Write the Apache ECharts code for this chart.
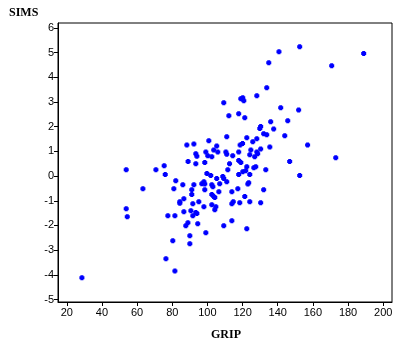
<!DOCTYPE html>
<html>
<head>
<meta charset="utf-8">
<script src="https://cdn.jsdelivr.net/npm/echarts@6/dist/echarts.min.js"></script>
<style>
html,body{margin:0;padding:0;background:#fff;}
#c{width:403px;height:343px;}
</style>
</head>
<body>
<div id="c"></div>
<script>
// Tick labels
const xTicks = [20, 40, 60, 80, 100, 120, 140, 160, 180, 200];
const yTicks = [-5, -4, -3, -2, -1, 0, 1, 2, 3, 4, 5, 6];
const xName = 'GRIP';
const yName = 'SIMS';

const grip = [
140.7,152.5,188.9,134.9,170.7,133.75,109.3,119.0,120.1,120.7,
128.1,141.7,151.9,112.2,117.8,121.25,136.0,145.7,130.3,129.8,
137.7,132.0,133.75,144.0,111.0,122.4,128.1,125.8,100.8,118.6,
120.0,135.5,157.0,105.3,103.6,124.7,130.3,99.1,105.9,110.5,
111.0,117.8,128.1,128.6,100.2,102.5,114.4,124.1,126.9,173.0,
88.3,92.3,93.4,94.0,53.8,70.7,75.4,76.0,89.0,93.4,
98.5,112.6,111.6,99.7,101.9,105.3,108.75,109.3,111.0,82.0,
86.0,92.3,96.8,98.0,98.5,102.5,103.1,107.0,63.3,80.9,
91.1,98.5,106.5,91.1,102.5,103.6,104.2,86.6,84.3,84.3,
95.1,91.7,102.5,98.0,104.8,104.2,86.6,90.6,93.4,94.0,
91.7,53.8,54.4,77.5,81.5,88.9,87.7,94.5,109.3,99.1,
90.0,80.3,90.0,76.4,81.5,28.6,117.8,119.0,122.4,127.5,
126.4,133.2,146.8,152.5,117.8,120.1,121.8,124.1,123.5,123.0,
132.0,117.3,113.9,121.25,113.9,114.7,118.4,124.1,130.3,113.9,
122.4
];
const sims = [
5.04,5.24,4.96,4.59,4.47,3.58,2.97,3.13,3.17,3.05,
3.25,2.77,2.68,2.44,2.52,2.36,2.20,2.24,2.01,1.93,
1.91,1.71,1.67,1.63,1.59,1.55,1.51,1.39,1.43,1.26,
1.32,1.18,1.26,1.22,1.06,1.06,1.10,0.98,0.98,0.98,
0.88,0.98,0.98,0.90,0.82,0.78,0.82,0.86,0.78,0.74,
1.26,1.30,0.90,0.80,0.26,0.26,0.42,0.06,0.59,0.50,
0.55,0.50,0.26,0.10,0.02,-0.10,-0.02,-0.10,-0.23,-0.19,
-0.35,-0.35,-0.31,-0.23,-0.32,-0.35,-0.43,-0.31,-0.51,-0.51,
-0.55,-0.55,-0.63,-0.75,-0.75,-0.83,-0.87,-0.92,-1.04,-1.10,
-1.04,-1.12,-1.16,-1.24,-1.24,-1.36,-1.44,-1.40,-1.48,-1.52,
-1.61,-1.32,-1.65,-1.61,-1.61,-1.89,-2.01,-1.93,-2.01,-2.30,
-2.42,-2.62,-2.74,-3.35,-3.84,-4.12,0.63,0.55,0.38,0.38,
0.34,0.26,0.59,0.02,0.06,0.18,0.22,0.06,-0.27,-0.32,
-0.55,-0.51,-0.63,-0.83,-1.12,-1.04,-1.08,-1.04,-1.08,-1.81,
-2.13
];

const points = grip.map((g, i) => [g, sims[i]]);

const labelFont = {fontFamily: '"Liberation Sans", Arial, sans-serif', fontSize: 11, color: '#000'};
const nameFont = {fontFamily: '"Liberation Serif", "Times New Roman", serif', fontSize: 12, fontWeight: 'bold', color: '#000'};

const chart = echarts.init(document.getElementById('c'), null, {renderer: 'canvas'});
chart.setOption({
  animation: false,
  backgroundColor: '#fff',
  title: [
    {text: yName, left: 4, top: 2, textStyle: nameFont},
    {text: xName, left: 206, top: 324, textStyle: nameFont}
  ],
  grid: {left: 58, right: 11, top: 23, bottom: 41, show: true, borderColor: '#000', borderWidth: 1, backgroundColor: 'transparent'},
  xAxis: {
    type: 'value', min: 15, max: 205,
    axisLine: {show: true, onZero: false, lineStyle: {color: '#000', width: 1}},
    axisTick: {show: true, length: 4, customValues: xTicks, lineStyle: {color: '#000'}},
    axisLabel: Object.assign({customValues: xTicks, margin: 5}, labelFont),
    splitLine: {show: false}
  },
  yAxis: {
    type: 'value', min: -5.1, max: 6.2,
    axisLine: {show: true, onZero: false, lineStyle: {color: '#000', width: 1}},
    axisTick: {show: true, length: 4, customValues: yTicks, lineStyle: {color: '#000'}},
    axisLabel: Object.assign({customValues: yTicks, margin: 4}, labelFont),
    splitLine: {show: false}
  },
  series: [{
    type: 'scatter',
    data: points,
    symbol: 'path://M1,0H4V1H5V4H4V5H1V4H0V1H1Z',
    symbolSize: 5,
    itemStyle: {color: '#0000ff', opacity: 1}
  }]
});
</script>
</body>
</html>
